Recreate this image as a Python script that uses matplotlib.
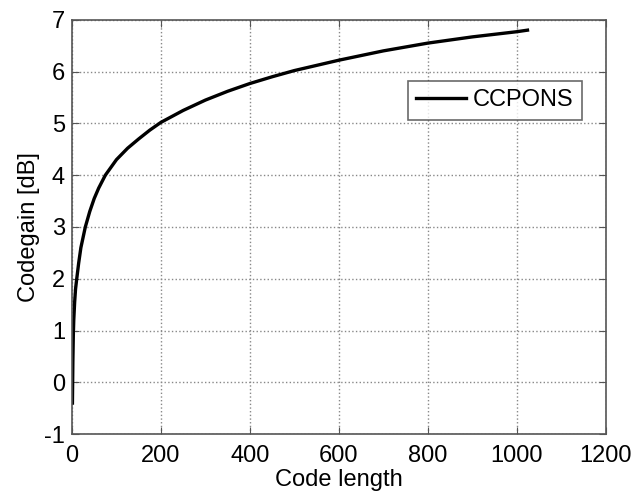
import matplotlib.pyplot as plt

# values
code_length = [1, 2, 3, 4, 6, 8, 10, 15, 20, 30, 40, 50, 60, 75, 100, 125,
               150, 175, 200, 250, 300, 350, 400, 450, 500, 600, 700, 800,
               900, 1000, 1024]
codegain_db = [-0.4, 0.4, 0.9, 1.2, 1.55, 1.8, 1.95, 2.3, 2.6, 3.0, 3.3,
               3.55, 3.75, 4.0, 4.3, 4.52, 4.7, 4.87, 5.02, 5.25, 5.45,
               5.62, 5.77, 5.9, 6.02, 6.22, 6.4, 6.55, 6.67, 6.77, 6.8]
x_ticks = [0, 200, 400, 600, 800, 1000, 1200]
y_ticks = [-1, 0, 1, 2, 3, 4, 5, 6, 7]

plt.rcParams['font.family'] = ['Liberation Sans', 'DejaVu Sans']
plt.rcParams['axes.unicode_minus'] = False

fig = plt.figure(figsize=(6.37, 4.95), dpi=100)
ax = fig.add_axes([0.113, 0.123, 0.838, 0.837])

ax.plot(code_length, codegain_db, color='black', lw=2.4, label='CCPONS')

ax.set_xlim(0, 1200)
ax.set_ylim(-1, 7)
ax.set_xticks(x_ticks)
ax.set_yticks(y_ticks)
ax.grid(True, linestyle=':', color='#888888', lw=1.0)
ax.tick_params(direction='in', top=True, right=True, labelsize=17,
               length=5, color='#555555')
ax.tick_params(axis='x', pad=8)
ax.tick_params(axis='y', pad=5)
for s in ax.spines.values():
    s.set_color('#555555')
    s.set_linewidth(1.2)

ax.set_xlabel('Code length', fontsize=17, labelpad=1)
ax.set_ylabel('Codegain [dB]', fontsize=17, labelpad=3)

leg = ax.legend(loc='upper right', bbox_to_anchor=(0.955, 0.852), fontsize=17,
                frameon=True, fancybox=False, handlelength=2.1,
                borderpad=0.35, handletextpad=0.3, borderaxespad=0)
leg.get_frame().set_edgecolor('#444444')
leg.get_frame().set_linewidth(1.2)

fig.savefig('out.png', dpi=100)
